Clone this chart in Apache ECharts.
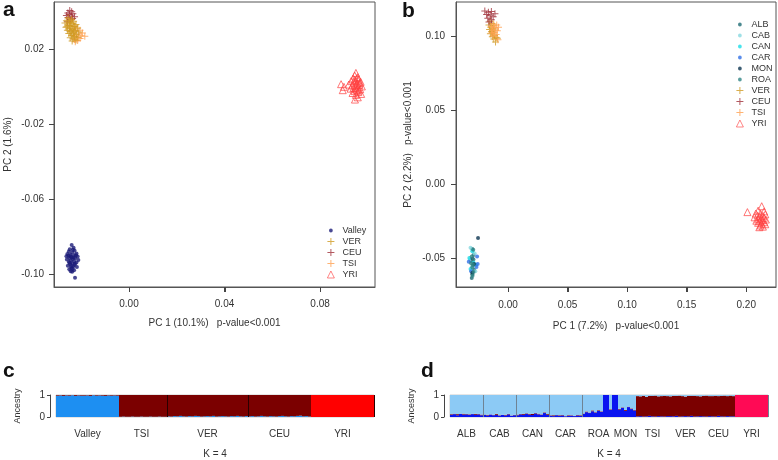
<!DOCTYPE html>
<html><head><meta charset="utf-8">
<script src="https://cdn.jsdelivr.net/npm/echarts@6/dist/echarts.min.js"></script>
<style>html,body{margin:0;padding:0;background:#fff}#c{width:778px;height:460px}</style>
</head><body><div id="c"></div><script>
// ---------- Panel a (PCA, Valley vs references) ----------
const aValley = [[-0.0240,-0.0845],[-0.0232,-0.0860],[-0.0248,-0.0868],[-0.0228,-0.0875],[-0.0252,-0.0880],[-0.0238,-0.0885],[-0.0220,-0.0890],[-0.0258,-0.0893],[-0.0245,-0.0897],[-0.0230,-0.0900],[-0.0262,-0.0905],[-0.0215,-0.0906],[-0.0240,-0.0910],[-0.0250,-0.0914],[-0.0225,-0.0916],[-0.0236,-0.0920],[-0.0260,-0.0922],[-0.0212,-0.0925],[-0.0244,-0.0928],[-0.0230,-0.0932],[-0.0252,-0.0936],[-0.0220,-0.0938],[-0.0238,-0.0942],[-0.0246,-0.0948],[-0.0228,-0.0952],[-0.0256,-0.0956],[-0.0234,-0.0960],[-0.0218,-0.0962],[-0.0242,-0.0968],[-0.0250,-0.0975],[-0.0230,-0.0980],[-0.0238,-0.0988],[-0.0226,-0.1020],[-0.0235,-0.0870],[-0.0245,-0.0905],[-0.0232,-0.0912],[-0.0248,-0.0940],[-0.0226,-0.0945],[-0.0242,-0.0958],[-0.0236,-0.0972],[-0.0254,-0.0902],[-0.0222,-0.0900],[-0.0244,-0.0985]];
const aVER = [[-0.0255,0.0365],[-0.0240,0.0358],[-0.0262,0.0350],[-0.0232,0.0348],[-0.0250,0.0342],[-0.0268,0.0338],[-0.0238,0.0335],[-0.0222,0.0330],[-0.0256,0.0328],[-0.0245,0.0322],[-0.0230,0.0318],[-0.0264,0.0315],[-0.0215,0.0312],[-0.0250,0.0308],[-0.0236,0.0304],[-0.0258,0.0300],[-0.0225,0.0296],[-0.0244,0.0292],[-0.0210,0.0290],[-0.0232,0.0286],[-0.0252,0.0282],[-0.0220,0.0278],[-0.0240,0.0272],[-0.0228,0.0266],[-0.0246,0.0260],[-0.0214,0.0262],[-0.0234,0.0254],[-0.0222,0.0248],[-0.0238,0.0242],[-0.0248,0.0350],[-0.0242,0.0340],[-0.0250,0.0325],[-0.0240,0.0310],[-0.0248,0.0295],[-0.0238,0.0280],[-0.0230,0.0300],[-0.0260,0.0318],[-0.0226,0.0322]];
const aCEU = [[-0.0248,0.0405],[-0.0240,0.0398],[-0.0256,0.0392],[-0.0235,0.0388],[-0.0250,0.0384],[-0.0262,0.0378],[-0.0242,0.0375],[-0.0228,0.0372],[-0.0255,0.0368],[-0.0236,0.0362],[-0.0246,0.0355],[-0.0258,0.0345]];
const aTSI = [[-0.0230,0.0320],[-0.0218,0.0310],[-0.0205,0.0300],[-0.0226,0.0295],[-0.0195,0.0285],[-0.0212,0.0280],[-0.0232,0.0272],[-0.0200,0.0270],[-0.0185,0.0268],[-0.0218,0.0262],[-0.0205,0.0255],[-0.0228,0.0250],[-0.0215,0.0245],[-0.0225,0.0238]];
const aYRI = [[0.0950,0.0072],[0.0945,0.0058],[0.0958,0.0050],[0.0938,0.0042],[0.0962,0.0038],[0.0950,0.0030],[0.0930,0.0028],[0.0970,0.0025],[0.0942,0.0020],[0.0956,0.0015],[0.0888,0.0012],[0.0920,0.0010],[0.0965,0.0008],[0.0935,0.0005],[0.0948,0.0002],[0.0975,0.0000],[0.0900,-0.0002],[0.0958,-0.0005],[0.0940,-0.0008],[0.0928,-0.0012],[0.0968,-0.0015],[0.0952,-0.0018],[0.0895,-0.0020],[0.0944,-0.0025],[0.0960,-0.0030],[0.0936,-0.0035],[0.0972,-0.0040],[0.0950,-0.0045],[0.0958,-0.0058],[0.0946,-0.0070],[0.0955,0.0045],[0.0948,-0.0010],[0.0962,-0.0022],[0.0954,0.0008],[0.0944,0.0035],[0.0966,0.0018]];
const aXTicks = [0.00, 0.04, 0.08];
const aYTicks = [-0.10, -0.06, -0.02, 0.02];

// ---------- Panel b (PCA, valleys separately) ----------
const bALB = [[-0.0300,-0.0440],[-0.0290,-0.0480],[-0.0310,-0.0520],[-0.0295,-0.0550],[-0.0285,-0.0580],[-0.0300,-0.0610],[-0.0305,-0.0635]];
const bCAB = [[-0.0315,-0.0430],[-0.0280,-0.0470],[-0.0320,-0.0510],[-0.0305,-0.0560],[-0.0275,-0.0590]];
const bCAN = [[-0.0300,-0.0455],[-0.0325,-0.0500],[-0.0290,-0.0530],[-0.0270,-0.0545],[-0.0315,-0.0575]];
const bCAR = [[-0.0260,-0.0490],[-0.0330,-0.0525],[-0.0255,-0.0540],[-0.0310,-0.0590],[-0.0265,-0.0560]];
const bMON = [[-0.0252,-0.0365],[-0.0298,-0.0505],[-0.0285,-0.0540],[-0.0300,-0.0600]];
const bROA = [[-0.0292,-0.0445],[-0.0305,-0.0490],[-0.0290,-0.0510],[-0.0310,-0.0535],[-0.0295,-0.0545],[-0.0300,-0.0565],[-0.0290,-0.0595],[-0.0298,-0.0620]];
const bVER = [[-0.0150,0.1100],[-0.0135,0.1085],[-0.0160,0.1075],[-0.0120,0.1070],[-0.0145,0.1060],[-0.0128,0.1050],[-0.0155,0.1045],[-0.0110,0.1040],[-0.0138,0.1030],[-0.0125,0.1020],[-0.0148,0.1015],[-0.0115,0.1005],[-0.0132,0.0995],[-0.0100,0.0990],[-0.0120,0.0980],[-0.0090,0.0985],[-0.0105,0.0960]];
const bCEU = [[-0.0195,0.1170],[-0.0165,0.1160],[-0.0140,0.1165],[-0.0110,0.1150],[-0.0180,0.1145],[-0.0150,0.1140],[-0.0125,0.1130],[-0.0170,0.1120],[-0.0140,0.1110],[-0.0160,0.1095]];
const bTSI = [[-0.0120,0.1080],[-0.0095,0.1075],[-0.0140,0.1065],[-0.0080,0.1060],[-0.0110,0.1055],[-0.0130,0.1040],[-0.0090,0.1035],[-0.0115,0.1025],[-0.0140,0.1020],[-0.0100,0.1010],[-0.0125,0.1000],[-0.0085,0.0975]];
const bYRI = [[0.2130,-0.0150],[0.2010,-0.0190],[0.2100,-0.0180],[0.2150,-0.0185],[0.2080,-0.0200],[0.2120,-0.0200],[0.2160,-0.0205],[0.2095,-0.0212],[0.2140,-0.0215],[0.2110,-0.0222],[0.2070,-0.0225],[0.2150,-0.0228],[0.2125,-0.0232],[0.2100,-0.0238],[0.2165,-0.0240],[0.2135,-0.0245],[0.2085,-0.0248],[0.2115,-0.0252],[0.2150,-0.0258],[0.2100,-0.0262],[0.2130,-0.0268],[0.2160,-0.0272],[0.2120,-0.0280],[0.2140,-0.0288],[0.2110,-0.0292]];
const bXTicks = [0.00, 0.05, 0.10, 0.15, 0.20];
const bYTicks = [-0.05, 0.00, 0.05, 0.10];

// ---------- Panel c (ADMIXTURE K=4, Valley pooled) ----------
const cPops = ['Valley', 'TSI', 'VER', 'CEU', 'YRI'];
const cBlue = [
  [0.97,0.98,0.96,0.98,0.97,0.99,0.96,0.98,0.97,0.97,0.98,0.96,0.99,0.97,0.98,0.97,0.96,0.98,0.97,0.98,0.97],
  [0.01,0.02,0.01,0.01,0.02,0.01,0.01,0.02,0.01,0.01,0.02,0.01,0.01,0.02,0.01,0.01],
  [0.03,0.02,0.04,0.03,0.05,0.03,0.02,0.04,0.03,0.05,0.04,0.02,0.03,0.04,0.03,0.05,0.02,0.03,0.04,0.03,0.02,0.04,0.03,0.05,0.03,0.02,0.04],
  [0.03,0.04,0.02,0.03,0.05,0.03,0.02,0.04,0.03,0.02,0.04,0.05,0.03,0.02,0.04,0.03,0.05,0.06,0.03,0.04,0.02],
  [0,0,0,0,0,0,0,0,0,0,0,0,0,0,0,0,0,0,0,0,0]
];
const cRed = [
  [0,0,0,0,0,0,0,0,0,0,0,0,0,0,0,0,0,0,0,0,0],
  [0,0,0,0,0,0,0,0,0,0,0,0,0,0,0,0],
  [0,0,0,0,0,0,0,0,0,0,0,0,0,0,0,0,0,0,0,0,0,0,0,0,0,0,0],
  [0,0,0,0,0,0,0,0,0,0,0,0,0,0,0,0,0,0,0,0,0],
  [1,1,1,1,1,1,1,1,1,1,1,1,1,1,1,1,1,1,1,1,1]
];

// ---------- Panel d (ADMIXTURE K=4, valleys separately) ----------
const dPops = ['ALB', 'CAB', 'CAN', 'CAR', 'ROA', 'MON', 'TSI', 'VER', 'CEU', 'YRI'];
const dDarkBlue = [
  [0.10,0.13,0.08,0.14,0.11,0.12,0.09,0.13,0.10,0.12,0.08],
  [0.09,0.07,0.11,0.08,0.10,0.06,0.09,0.07,0.12,0.06,0.08],
  [0.08,0.12,0.10,0.15,0.11,0.09,0.16,0.12,0.10,0.18,0.09],
  [0.06,0.04,0.08,0.05,0.07,0.03,0.05,0.06,0.04,0.07,0.05],
  [0.14,0.22,0.18,0.26,0.20,0.28,0.24,1.00,1.00,0.32,1.00],
  [1.00,0.34,0.42,0.28,0.45,0.36,0.30],
  [0.03,0.04,0.02,0.03,0.05,0.03,0.02,0.04,0.03,0.02,0.04],
  [0.04,0.03,0.05,0.02,0.03,0.04,0.03,0.05,0.02,0.03,0.04],
  [0.03,0.02,0.04,0.03,0.02,0.05,0.03,0.02,0.04,0.03,0.03],
  [0,0,0,0,0,0,0,0,0,0,0]
];
const dDarkRed = [
  [0.03,0.02,0.05,0.01,0.04,0.02,0.03,0.01,0.04,0.02,0.03],
  [0.02,0.03,0.01,0.02,0.04,0.02,0.01,0.03,0.02,0.01,0.02],
  [0.03,0.02,0.04,0.02,0.03,0.05,0.02,0.03,0.02,0.03,0.04],
  [0.02,0.04,0.01,0.03,0.02,0.01,0.03,0.02,0.01,0.02,0.03],
  [0.02,0.03,0.02,0.04,0.02,0.03,0.02,0,0,0.03,0],
  [0,0.03,0.02,0.04,0.02,0.03,0.02],
  [0.92,0.90,0.94,0.89,0.91,0.93,0.95,0.90,0.92,0.94,0.91],
  [0.90,0.93,0.91,0.95,0.92,0.89,0.93,0.91,0.94,0.92,0.90],
  [0.93,0.95,0.91,0.92,0.94,0.90,0.93,0.95,0.91,0.94,0.92],
  [0,0,0,0,0,0,0,0,0,0,0]
];
const dPink = [
  [0,0,0,0,0,0,0,0,0,0,0],[0,0,0,0,0,0,0,0,0,0,0],[0,0,0,0,0,0,0,0,0,0,0],[0,0,0,0,0,0,0,0,0,0,0],
  [0,0,0,0,0,0,0,0,0,0,0],[0,0,0,0,0,0,0],[0,0,0,0,0,0,0,0,0,0,0],[0,0,0,0,0,0,0,0,0,0,0],
  [0,0,0,0,0,0,0,0,0,0,0],
  [1,1,1,1,1,1,1,1,1,1,1]
];
const dSeparatorPops = ['CAB', 'CAN', 'CAR', 'ROA'];
const cSeparatorPops = ['VER', 'CEU'];

// ---------- build ----------
const FONT = '"Liberation Sans", Arial, sans-serif';
const TXT = '#333';
const PLUS = 'path://M0,3H7V4H0Z M3,0H4V7H3Z';
const DOT = 'path://M0,0L0.01,0ZM10,10L9.99,10ZM5,2.3A2.7,2.7,0,1,1,4.99,2.3Z';
const GRIDS = [
  { left: 54, top: 2, width: 321, height: 285 },
  { left: 456, top: 2, width: 320, height: 285 },
  { left: 56, top: 395, width: 318, height: 23 },
  { left: 450, top: 395, width: 318, height: 23 }
];
const EXT = [
  { x: [-0.0314, 0.103], y: [-0.1069, 0.045] },
  { x: [-0.0437, 0.225], y: [-0.0696, 0.123] }
];
const TICK_LEN = 5;

function buildCats(pops, arrs) {
  const cats = [], labelIdx = new Set(), starts = {};
  pops.forEach((p, k) => {
    const n = arrs[k].length, s = cats.length;
    starts[p] = s;
    labelIdx.add(s + Math.floor((n - 1) / 2));
    for (let i = 0; i < n; i++) cats.push(p + ' ' + (i + 1));
  });
  return { cats, labelIdx, starts };
}
const C = buildCats(cPops, cBlue);
const D = buildCats(dPops, dDarkBlue);
const cBlueData = cBlue.flat();
const cRedData = cRed.flat();
const cDarkData = cBlueData.map((b, i) => +(1 - b - cRedData[i]).toFixed(3));
const dDB = dDarkBlue.flat(), dDR = dDarkRed.flat(), dPK = dPink.flat();
const dLB = dDB.map((v, i) => +Math.max(0, 1 - v - dDR[i] - dPK[i]).toFixed(3));
const cSep = new Set(cSeparatorPops.map(p => C.starts[p]));
const dSep = new Set(dSeparatorPops.map(p => D.starts[p]));

const fmt2 = v => v.toFixed(2);
function valAxis(grid, ext, ticks, name, gap, margin) {
  return {
    gridIndex: grid, type: 'value', min: ext[0], max: ext[1],
    axisLine: { show: true, onZero: false, lineStyle: { color: '#555' } },
    axisTick: { show: true, inside: false, length: TICK_LEN, customValues: ticks, lineStyle: { color: '#444' } },
    axisLabel: { customValues: ticks, formatter: fmt2, fontSize: 10, color: TXT, fontFamily: FONT, margin },
    splitLine: { show: false },
    name, nameLocation: 'middle', nameGap: gap,
    nameTextStyle: { fontSize: 10, color: TXT, fontFamily: FONT }
  };
}
function catAxis(grid, cats, labelIdx, sep, sepColor) {
  return {
    gridIndex: grid, type: 'category', data: cats, z: 5,
    axisLine: { show: false, onZero: false }, axisTick: { show: false },
    axisLabel: { interval: (i) => labelIdx.has(i), formatter: v => v.split(' ')[0], fontSize: 10, color: TXT, fontFamily: FONT, margin: 12 },
    splitLine: { show: true, interval: (i) => sep.has(i), lineStyle: { color: sepColor, width: 1 } },
    name: 'K = 4', nameLocation: 'middle', nameGap: 32,
    nameTextStyle: { fontSize: 10, color: TXT, fontFamily: FONT }
  };
}
function ancAxis(grid) {
  return {
    gridIndex: grid, type: 'value', min: 0, max: 1, interval: 1, offset: 6,
    axisLine: { show: true, onZero: false, lineStyle: { color: '#444' } },
    axisTick: { show: true, length: 3, lineStyle: { color: '#444' } },
    axisLabel: { fontSize: 10, color: TXT, fontFamily: FONT, margin: 5 },
    splitLine: { show: false },
    name: 'Ancestry', nameLocation: 'middle', nameGap: 28,
    nameTextStyle: { fontSize: 9, color: TXT, fontFamily: FONT }
  };
}
function sc(name, ax, data, symbol, size, color, open) {
  return {
    name, type: 'scatter', xAxisIndex: ax, yAxisIndex: ax, data, symbol, symbolSize: size, silent: true,
    itemStyle: open ? { color: 'rgba(0,0,0,0)', borderColor: color, borderWidth: 0.9 } : { color }
  };
}
function bar(name, ax, stack, data, color) {
  return {
    name, type: 'bar', xAxisIndex: ax, yAxisIndex: ax, stack, data, barCategoryGap: '0%', silent: true,
    itemStyle: { color }
  };
}

const COL = {
  Valley: '#1c1c78', VER: '#cf9a22', CEU: '#a0303a', TSI: '#ffa050', YRI: '#ff4040',
  ALB: '#1e6b74', CAB: '#86d8e0', CAN: '#19dde8', CAR: '#2f6fe6', MON: '#0c3550', ROA: '#2f8585'
};
const legendCommon = {
  orient: 'vertical', itemWidth: 7, itemHeight: 7, itemGap: 2, selectedMode: false,
  formatter: n => n.split('_')[0],
  textStyle: { fontSize: 9, color: TXT, fontFamily: FONT, padding: [0, 0, 0, 3] }
};
const li = (name, icon, color) => ({ name, icon, itemStyle: { color, borderWidth: 0 } });
const lt = (name) => ({ name, icon: 'triangle', itemStyle: { color: 'rgba(0,0,0,0)', borderColor: COL.YRI, borderWidth: 0.8 } });

// R-style outward tick marks for the two PCA panels (axis decoration)
function tickMarks() {
  const els = [];
  [[0, aXTicks, aYTicks], [1, bXTicks, bYTicks]].forEach(([g, xt, yt]) => {
    const G = GRIDS[g], E = EXT[g];
    const bottom = G.top + G.height, left = G.left;
    xt.forEach((v) => {
      const px = Math.round(G.left + (v - E.x[0]) / (E.x[1] - E.x[0]) * G.width) + 0.5;
      els.push({ type: 'line', silent: true, z: 100, shape: { x1: px, y1: bottom, x2: px, y2: bottom + TICK_LEN }, style: { stroke: '#444', lineWidth: 1 } });
    });
    yt.forEach((v) => {
      const py = Math.round(bottom - (v - E.y[0]) / (E.y[1] - E.y[0]) * G.height) + 0.5;
      els.push({ type: 'line', silent: true, z: 100, shape: { x1: left - TICK_LEN, y1: py, x2: left, y2: py }, style: { stroke: '#444', lineWidth: 1 } });
    });
  });
  return els;
}
const letterFont = 'bold 21px "Liberation Sans", Arial';
const letters = [
  { type: 'text', x: 3, y: 21, style: { text: 'a', font: letterFont, fill: '#111', verticalAlign: 'bottom' } },
  { type: 'text', x: 402, y: 22, style: { text: 'b', font: letterFont, fill: '#111', verticalAlign: 'bottom' } },
  { type: 'text', x: 3, y: 382, style: { text: 'c', font: letterFont, fill: '#111', verticalAlign: 'bottom' } },
  { type: 'text', x: 421, y: 382, style: { text: 'd', font: letterFont, fill: '#111', verticalAlign: 'bottom' } }
];

const option = {
  animation: false,
  backgroundColor: '#fff',
  grid: [
    Object.assign({ show: true, borderColor: '#555', borderWidth: 1 }, GRIDS[0]),
    Object.assign({ show: true, borderColor: '#555', borderWidth: 1 }, GRIDS[1]),
    Object.assign({ show: true, borderColor: '#999', borderWidth: 0.5 }, GRIDS[2]),
    Object.assign({ show: true, borderColor: '#999', borderWidth: 0.5 }, GRIDS[3])
  ],
  xAxis: [
    valAxis(0, EXT[0].x, aXTicks, 'PC 1 (10.1%)   p-value<0.001', 31, 12),
    valAxis(1, EXT[1].x, bXTicks, 'PC 1 (7.2%)   p-value<0.001', 34, 13),
    catAxis(2, C.cats, C.labelIdx, cSep, '#2a0000'),
    catAxis(3, D.cats, D.labelIdx, dSep, '#6f8394')
  ],
  yAxis: [
    valAxis(0, EXT[0].y, aYTicks, 'PC 2 (1.6%)', 41, 10),
    valAxis(1, EXT[1].y, bYTicks, 'PC 2 (2.2%)   p-value<0.001', 43, 11),
    ancAxis(2),
    ancAxis(3)
  ],
  legend: [
    Object.assign({}, legendCommon, {
      left: 322, top: 221,
      data: [
        li('Valley_a', DOT, COL.Valley),
        li('VER_a', PLUS, COL.VER), li('CEU_a', PLUS, COL.CEU), li('TSI_a', PLUS, COL.TSI),
        lt('YRI_a')
      ]
    }),
    Object.assign({}, legendCommon, {
      left: 731, top: 15,
      data: [
        li('ALB', DOT, COL.ALB), li('CAB', DOT, COL.CAB), li('CAN', DOT, COL.CAN),
        li('CAR', DOT, COL.CAR), li('MON', DOT, COL.MON), li('ROA', DOT, COL.ROA),
        li('VER_b', PLUS, COL.VER), li('CEU_b', PLUS, COL.CEU), li('TSI_b', PLUS, COL.TSI),
        lt('YRI_b')
      ]
    })
  ],
  series: [
    sc('Valley_a', 0, aValley, 'circle', 4, COL.Valley),
    sc('TSI_a', 0, aTSI, PLUS, 7, COL.TSI),
    sc('CEU_a', 0, aCEU, PLUS, 7, COL.CEU),
    sc('VER_a', 0, aVER, PLUS, 7, COL.VER),
    sc('YRI_a', 0, aYRI, 'triangle', 7, COL.YRI, true),

    sc('ALB', 1, bALB, 'circle', 4, COL.ALB),
    sc('CAB', 1, bCAB, 'circle', 4, COL.CAB),
    sc('CAN', 1, bCAN, 'circle', 4, COL.CAN),
    sc('CAR', 1, bCAR, 'circle', 4, COL.CAR),
    sc('MON', 1, bMON, 'circle', 4, COL.MON),
    sc('ROA', 1, bROA, 'circle', 4, COL.ROA),
    sc('VER_b', 1, bVER, PLUS, 7, COL.VER),
    sc('TSI_b', 1, bTSI, PLUS, 7, COL.TSI),
    sc('CEU_b', 1, bCEU, PLUS, 7, COL.CEU),
    sc('YRI_b', 1, bYRI, 'triangle', 7, COL.YRI, true),

    bar('c_blue', 2, 'c', cBlueData, '#1d8ff2'),
    bar('c_darkred', 2, 'c', cDarkData, '#7b0000'),
    bar('c_red', 2, 'c', cRedData, '#ff0000'),

    bar('d_darkblue', 3, 'd', dDB, '#0a14f0'),
    bar('d_darkred', 3, 'd', dDR, '#7b0000'),
    bar('d_pink', 3, 'd', dPK, '#ff0a55'),
    bar('d_lightblue', 3, 'd', dLB, '#8ccaf5')
  ],
  graphic: { elements: letters.concat(tickMarks()) }
};
const chart = echarts.init(document.getElementById('c'), null, { renderer: 'canvas' });
chart.setOption(option);
</script></body></html>
